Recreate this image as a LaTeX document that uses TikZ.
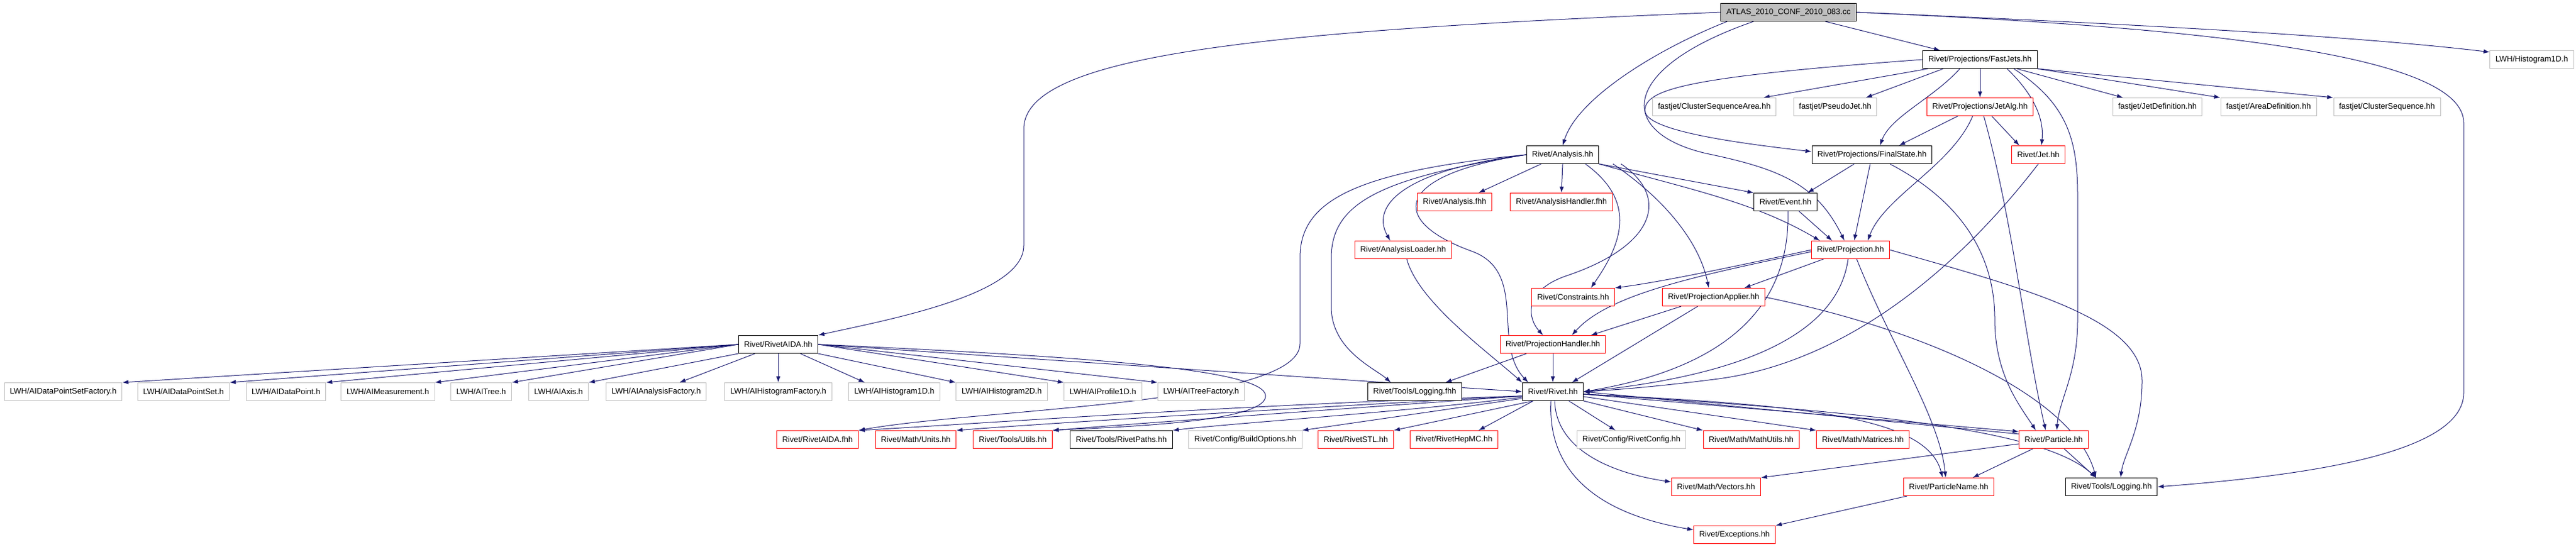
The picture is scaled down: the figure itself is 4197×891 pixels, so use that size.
\documentclass[tikz,border=0pt]{standalone}
\usepackage{fontspec}
\setmainfont{Liberation Sans}
\usepackage{xcolor}
\usepackage{tikz}
\usetikzlibrary{arrows.meta}
\definecolor{edgeblue}{HTML}{191970}
\definecolor{boxgray}{HTML}{BFBFBF}
\pgfdeclarelayer{edges}
\pgfsetlayers{edges,main}

\begin{document}
\begin{tikzpicture}[x=1pt, y=-1pt,
  nd/.style={rectangle, fill=white, inner xsep=9pt, inner ysep=0pt, minimum height=29pt, line width=1pt, font=\fontsize{13}{15}\selectfont},
  blk/.style={nd, draw=black},
  trunc/.style={nd, draw=red},
  ext/.style={nd, draw=boxgray},
  dep/.style={draw=edgeblue, line width=1pt, -{Latex[length=10pt,width=7pt]}}]
\useasboundingbox (0,0) rectangle (4197,891);

\node[blk, fill=boxgray] (atlas) at (2914,20) {ATLAS\_2010\_CONF\_2010\_083.cc};
\node[blk] (fastjets) at (3226,97) {Rivet/Projections/FastJets.hh};
\node[ext] (hist1d) at (4125,97) {LWH/Histogram1D.h};
\node[ext] (csa) at (2793,174) {fastjet/ClusterSequenceArea.hh};
\node[ext] (pseudojet) at (2990,174) {fastjet/PseudoJet.hh};
\node[trunc] (jetalg) at (3226,174) {Rivet/Projections/JetAlg.hh};
\node[ext] (jetdef) at (3515,174) {fastjet/JetDefinition.hh};
\node[ext] (areadef) at (3696,174) {fastjet/AreaDefinition.hh};
\node[ext] (clseq) at (3889,174) {fastjet/ClusterSequence.hh};
\node[blk] (analysis) at (2546,252) {Rivet/Analysis.hh};
\node[blk] (finalstate) at (3050,252) {Rivet/Projections/FinalState.hh};
\node[trunc] (jet) at (3321,252) {Rivet/Jet.hh};
\node[trunc] (anafhh) at (2370,329) {Rivet/Analysis.fhh};
\node[trunc] (handlerfhh) at (2544,329) {Rivet/AnalysisHandler.fhh};
\node[blk] (event) at (2909,329) {Rivet/Event.hh};
\node[trunc] (loader) at (2286,407) {Rivet/AnalysisLoader.hh};
\node[trunc] (projection) at (3015,407) {Rivet/Projection.hh};
\node[trunc] (constraints) at (2563,484) {Rivet/Constraints.hh};
\node[trunc] (projapplier) at (2792,484) {Rivet/ProjectionApplier.hh};
\node[blk] (rivetaida) at (1268,561) {Rivet/RivetAIDA.hh};
\node[trunc] (projhandler) at (2530,561) {Rivet/ProjectionHandler.hh};

\node[ext] (dpsfactory) at (103,638) {LWH/AIDataPointSetFactory.h};
\node[ext] (dpset) at (299,638) {LWH/AIDataPointSet.h};
\node[ext] (dpoint) at (466,638) {LWH/AIDataPoint.h};
\node[ext] (measurement) at (632,638) {LWH/AIMeasurement.h};
\node[ext] (aitree) at (784,638) {LWH/AITree.h};
\node[ext] (aiaxis) at (910,638) {LWH/AIAxis.h};
\node[ext] (anfactory) at (1069,638) {LWH/AIAnalysisFactory.h};
\node[ext] (histfactory) at (1268,638) {LWH/AIHistogramFactory.h};
\node[ext] (aihist1d) at (1457,638) {LWH/AIHistogram1D.h};
\node[ext] (aihist2d) at (1632,638) {LWH/AIHistogram2D.h};
\node[ext] (profile1d) at (1797,638) {LWH/AIProfile1D.h};
\node[ext] (treefactory) at (1957,638) {LWH/AITreeFactory.h};
\node[blk] (logfhh) at (2305,638) {Rivet/Tools/Logging.fhh};
\node[blk] (rivet) at (2530,638) {Rivet/Rivet.hh};

\node[trunc] (aidafhh) at (1332,716) {Rivet/RivetAIDA.fhh};
\node[trunc] (units) at (1492,716) {Rivet/Math/Units.hh};
\node[trunc] (utils) at (1650,716) {Rivet/Tools/Utils.hh};
\node[blk] (paths) at (1827,716) {Rivet/Tools/RivetPaths.hh};
\node[ext] (buildopts) at (2029,716) {Rivet/Config/BuildOptions.hh};
\node[trunc] (stl) at (2209,716) {Rivet/RivetSTL.hh};
\node[trunc] (hepmc) at (2369,716) {Rivet/RivetHepMC.hh};
\node[ext] (rivetconfig) at (2658,716) {Rivet/Config/RivetConfig.hh};
\node[trunc] (mathutils) at (2853,716) {Rivet/Math/MathUtils.hh};
\node[trunc] (matrices) at (3035,716) {Rivet/Math/Matrices.hh};
\node[trunc] (particle) at (3346,716) {Rivet/Particle.hh};
\node[trunc] (vectors) at (2796,793) {Rivet/Math/Vectors.hh};
\node[trunc] (pname) at (3175,793) {Rivet/ParticleName.hh};
\node[blk] (logging) at (3440,793) {Rivet/Tools/Logging.hh};
\node[trunc] (exceptions) at (2826,871) {Rivet/Exceptions.hh};

\begin{pgfonlayer}{edges}
\draw[dep] (atlas.west) .. controls (2050,50) and (1668,90) .. (1668,210) -- (1668,400) .. controls (1668,480) and (1450,520) .. (rivetaida.north east);
\draw[dep] ([xshift=-100]atlas.south) .. controls (2700,80) and (2570,160) .. (analysis.north);
\draw[dep] ([xshift=-57]atlas.south) .. controls (2640,110) and (2630,215) .. (2780,250) .. controls (2900,275) and (2960,300) .. ([xshift=-10]projection.north);
\draw[dep] ([xshift=60]atlas.south) -- ([xshift=-65]fastjets.north);
\draw[dep] (atlas.east) .. controls (3500,40) and (3850,60) .. (hist1d.170);
\draw[dep] (atlas.east) .. controls (3600,45) and (4014,90) .. (4014,200) -- (4014,640) .. controls (4014,740) and (3750,775) .. (logging.east);

\draw[dep] (fastjets.west) .. controls (2750,125) and (2680,145) .. (2680,180) .. controls (2680,215) and (2850,235) .. ([yshift=5]finalstate.west);
\draw[dep] ([xshift=-85]fastjets.south) -- ([xshift=80]csa.north);
\draw[dep] ([xshift=-60]fastjets.south) -- ([xshift=50]pseudojet.north);
\draw[dep] ([xshift=-33]fastjets.south) .. controls (3150,160) and (3080,190) .. ([xshift=13]finalstate.north);
\draw[dep] (fastjets.south) -- (jetalg.north);
\draw[dep] ([xshift=44]fastjets.south) .. controls (3320,160) and (3330,200) .. ([xshift=5]jet.north);
\draw[dep] ([xshift=55]fastjets.south) .. controls (3370,170) and (3385,230) .. (3385,320) -- (3385,520) .. controls (3385,610) and (3355,650) .. ([xshift=5]particle.north);
\draw[dep] ([xshift=60]fastjets.south) -- ([xshift=-56]jetdef.north);
\draw[dep] (fastjets.south east) -- (areadef.north west);
\draw[dep] (fastjets.south east) -- (clseq.north west);

\draw[dep] ([xshift=-36]jetalg.south) -- ([xshift=44]finalstate.north);
\draw[dep] ([xshift=-12]jetalg.south) .. controls (3180,270) and (3070,320) .. ([xshift=28]projection.north);
\draw[dep] ([xshift=6]jetalg.south) .. controls (3280,360) and (3300,560) .. ([xshift=-13]particle.north);
\draw[dep] ([xshift=19]jetalg.south) -- ([xshift=-31]jet.north);
\draw[dep] (jet.south) .. controls (3180,450) and (3000,590) .. (2800,617) .. controls (2700,630) and (2620,636) .. (rivet.east);

\draw[dep] ([xshift=-29]finalstate.south) -- ([xshift=36]event.north);
\draw[dep] ([xshift=-3]finalstate.south) -- ([xshift=6]projection.north);
\draw[dep] ([xshift=29]finalstate.south) .. controls (3200,330) and (3250,420) .. (3250,520) .. controls (3250,610) and (3290,660) .. ([xshift=-29]particle.north);

\draw[dep] ([xshift=-35]analysis.south) -- ([xshift=39]anafhh.north);
\draw[dep] (analysis.south) -- (handlerfhh.north);
\draw[dep] (analysis.south east) -- (event.north west);
\draw[dep] (analysis.south east) .. controls (2760,310) and (2860,330) .. ([xshift=-50]projection.north);
\draw[dep] ([xshift=37]analysis.south) .. controls (2670,330) and (2640,400) .. ([xshift=29]constraints.north);
\draw[dep] ([xshift=82]analysis.south) .. controls (2720,330) and (2770,400) .. ([xshift=-8]projapplier.north);
\draw[dep] ([xshift=95]analysis.south) .. controls (2720,320) and (2700,400) .. (2550,450) .. controls (2480,475) and (2490,520) .. ([xshift=-16]projhandler.north);
\draw[dep] (analysis.west) .. controls (2300,275) and (2230,330) .. ([xshift=-21]loader.north);
\draw[dep] (analysis.west) .. controls (2270,285) and (2260,360) .. (2400,410) .. controls (2490,445) and (2430,560) .. ([xshift=-40]rivet.north);
\draw[dep] (analysis.west) .. controls (2250,290) and (2169,330) .. (2169,420) -- (2169,500) .. controls (2169,570) and (2240,600) .. ([xshift=-39]logfhh.north);
\draw[dep] (analysis.west) .. controls (2200,280) and (2118,330) .. (2118,420) -- (2118,560) .. controls (2118,660) and (1600,665) .. (aidafhh.north east);

\draw[dep] (rivetaida.west) -- (dpsfactory.north east);
\draw[dep] (rivetaida.west) -- (dpset.north east);
\draw[dep] (rivetaida.west) -- (dpoint.north east);
\draw[dep] (rivetaida.west) -- (measurement.north east);
\draw[dep] (rivetaida.west) -- (aitree.north east);
\draw[dep] (rivetaida.south west) -- (aiaxis.north east);
\draw[dep] ([xshift=-38]rivetaida.south) -- ([xshift=38]anfactory.north);
\draw[dep] (rivetaida.south) -- (histfactory.north);
\draw[dep] ([xshift=36]rivetaida.south) -- ([xshift=-48]aihist1d.north);
\draw[dep] (rivetaida.south east) -- (aihist2d.north west);
\draw[dep] (rivetaida.east) -- (profile1d.north west);
\draw[dep] (rivetaida.east) -- (treefactory.north west);
\draw[dep] (rivetaida.east) -- (rivet.west);
\draw[dep] (rivetaida.east) .. controls (1750,580) and (2062,600) .. (2062,645) .. controls (2062,690) and (1800,696) .. (utils.north east);

\draw[dep] ([yshift=-7]rivet.west) .. controls (2000,660) and (1600,690) .. (aidafhh.north east);
\draw[dep] ([yshift=-7]rivet.west) .. controls (2100,665) and (1700,690) .. (units.north east);
\draw[dep] ([yshift=-7]rivet.west) .. controls (2200,665) and (1850,690) .. (utils.north east);
\draw[dep] ([yshift=-9]rivet.west) .. controls (2300,670) and (2000,690) .. (paths.north east);
\draw[dep] ([yshift=-11]rivet.west) -- (buildopts.north east);
\draw[dep] ([xshift=-32]rivet.south) -- (stl.north east);
\draw[dep] ([xshift=-32]rivet.south) -- ([xshift=40]hepmc.north);
\draw[dep] ([xshift=26]rivet.south) -- ([xshift=-26]rivetconfig.north);
\draw[dep] (rivet.south east) -- (mathutils.north west);
\draw[dep] ([yshift=-8]rivet.east) -- (matrices.north west);
\draw[dep] ([yshift=-4]rivet.east) -- ([yshift=-2]particle.north west);
\draw[dep] ([yshift=-6]particle.north west) -- (rivet.east);
\draw[dep] ([yshift=-4]rivet.east) .. controls (2950,660) and (3140,680) .. ([xshift=-10]pname.north);
\draw[dep] ([yshift=-4]rivet.east) .. controls (3050,670) and (3330,700) .. ([xshift=-25]logging.north);
\draw[dep] ([xshift=3]rivet.south) .. controls (2535,730) and (2620,770) .. ([yshift=8]vectors.west);
\draw[dep] ([xshift=-3]rivet.south) .. controls (2520,780) and (2620,840) .. ([yshift=8]exceptions.west);

\draw[dep] ([yshift=-7]particle.west) -- (vectors.north east);
\draw[dep] ([xshift=-34]particle.south) -- ([xshift=39]pname.north);
\draw[dep] ([xshift=17]particle.south) -- ([xshift=-25]logging.north);
\draw[dep] ([xshift=-68]pname.south) -- (exceptions.north east);

\draw[dep] (projection.west) .. controls (2800,440) and (2700,460) .. (constraints.north east);
\draw[dep] ([yshift=-3]projection.west) .. controls (2760,450) and (2620,480) .. ([xshift=31]projhandler.north);
\draw[dep] ([xshift=-44]projection.south) -- ([xshift=50]projapplier.north);
\draw[dep] ([xshift=-4]projection.south) .. controls (2995,540) and (2850,610) .. (rivet.east);
\draw[dep] ([xshift=10]projection.south) .. controls (3080,560) and (3160,680) .. ([xshift=-5]pname.north);
\draw[dep] (projection.east) .. controls (3300,470) and (3490,520) .. (3490,620) .. controls (3490,700) and (3460,740) .. ([xshift=15]logging.north);

\draw[dep] ([xshift=-53]projapplier.south) -- ([xshift=62]projhandler.north);
\draw[dep] ([xshift=-26]projapplier.south) -- ([xshift=31]rivet.north);
\draw[dep] (projapplier.east) .. controls (3150,540) and (3380,650) .. ([xshift=-25]logging.north);
\draw[dep] ([xshift=-43]projhandler.south) -- ([xshift=50]logfhh.north);
\draw[dep] (projhandler.south) -- (rivet.north);
\draw[dep] ([xshift=22]event.south) -- ([xshift=-30]projection.north);
\draw[dep] ([xshift=4]event.south) .. controls (2918,540) and (2750,610) .. (rivet.east);
\draw[dep] ([xshift=6]loader.south) .. controls (2310,490) and (2420,570) .. (rivet.north west);
\end{pgfonlayer}
\end{tikzpicture}
\end{document}
